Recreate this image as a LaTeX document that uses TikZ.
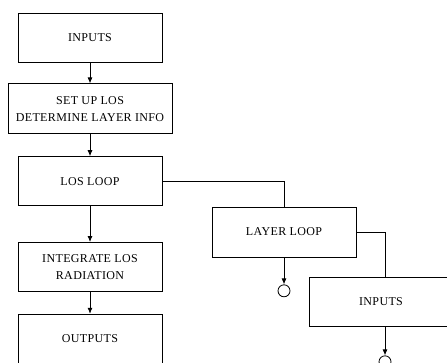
\documentclass[tikz,border=0pt]{standalone}
\usepackage{fontspec}
\setmainfont{Liberation Serif}[LetterSpace=3]
\usepackage{tikz}
\usetikzlibrary{arrows.meta,positioning}

\begin{document}
\begin{tikzpicture}[
  x=1pt,y=-1pt,
  box/.style={rectangle,draw,line width=0.8pt,align=center,minimum width=144pt,minimum height=49pt,font=\fontsize{12}{17}\selectfont},
  arr/.style={-{Latex[length=6pt,width=5pt]},line width=0.8pt},
  lnk/.style={line width=0.8pt},
  stopc/.style={circle,draw,line width=0.8pt,minimum size=12pt,inner sep=0pt}
]
\useasboundingbox (0,0) rectangle (447,362);

\node[box] (inputs) at (90,37.5) {INPUTS};
\node[box,minimum width=164pt,minimum height=50pt,below=21pt of inputs] (setup) {SET UP LOS\\DETERMINE LAYER INFO};
\node[box,below=22pt of setup] (losloop) {LOS LOOP};
\node[box,below=36pt of losloop] (integ) {INTEGRATE LOS\\RADIATION};
\node[box,below=22pt of integ] (outputs) {OUTPUTS};

\node[box,minimum height=50pt] (layer) at (284,232) {LAYER LOOP};
\node[box] (inner) at (381,301.5) {INPUTS};

\node[stopc,below=27pt of layer] (stopa) {};
\node[stopc,below=29pt of inner.south -| stopa.center,xshift=101pt,anchor=north] (stopb) {};

\draw[arr] (inputs) -- (setup);
\draw[arr] (setup) -- (losloop);
\draw[arr] (losloop) -- (integ);
\draw[arr] (integ) -- (outputs);

% side branch
\draw[lnk] (losloop.east) -| (layer.north);
\draw[lnk] (layer.east) -| (stopb.north |- inner.north);
\draw[arr] (layer.south) -- (stopa.north);
\draw[arr] (stopb.north |- inner.south) -- (stopb.north);
\end{tikzpicture}
\end{document}
